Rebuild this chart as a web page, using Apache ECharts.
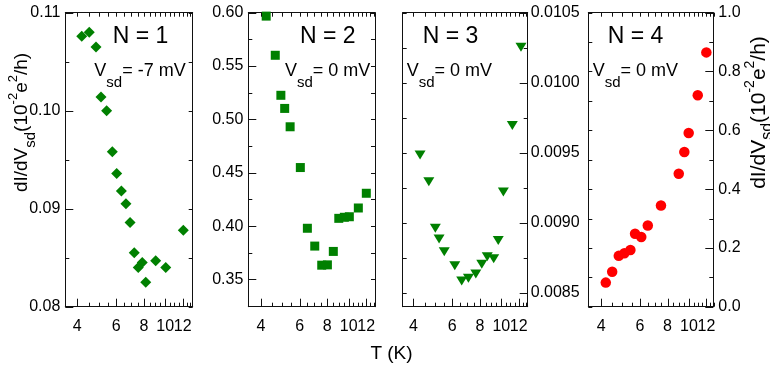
<!DOCTYPE html>
<html><head><meta charset="utf-8">
<script src="https://cdn.jsdelivr.net/npm/echarts@6/dist/echarts.min.js"></script>
<style>html,body{margin:0;padding:0;background:#fff}#c{width:770px;height:371px}</style>
</head><body><div id="c"></div>
<script>
// ---- data ----
const xTickLabels = [4, 6, 8, 10, 12];
const xMinorTicks = [4.5, 5, 5.5, 6.5, 7, 7.5, 8.5, 9, 9.5, 10.5, 11, 11.5, 12.5, 13];

const n1T = [4.19, 4.53, 4.86, 5.12, 5.43, 5.76, 6.03, 6.33, 6.64, 6.93, 7.24, 7.55, 7.87, 8.16, 9.05, 10.05, 12.07];
const n1G = [0.1076, 0.1080, 0.1065, 0.1014, 0.1000, 0.0958, 0.0936, 0.0918, 0.0905, 0.0886, 0.0855, 0.0840, 0.0845, 0.0825, 0.0847, 0.0840, 0.0878];

const n2T = [4.23, 4.65, 4.93, 5.13, 5.43, 6.04, 6.50, 7.02, 7.55, 8.01, 8.52, 9.02, 9.56, 10.07, 11.06, 12.02];
const n2G = [0.5968, 0.5601, 0.5226, 0.5103, 0.4931, 0.4549, 0.3980, 0.3813, 0.3634, 0.3637, 0.3763, 0.4073, 0.4083, 0.4088, 0.4170, 0.4308];

const n3T = [4.29, 4.70, 5.03, 5.23, 5.52, 6.16, 6.62, 7.10, 7.67, 8.16, 8.64, 9.24, 9.69, 10.22, 11.22, 12.28];
const n3G = [0.009484, 0.009292, 0.008961, 0.008884, 0.008793, 0.008693, 0.008584, 0.008603, 0.008634, 0.008703, 0.008756, 0.008742, 0.008872, 0.009219, 0.009695, 0.010254];

const n4T = [4.20, 4.49, 4.81, 5.10, 5.43, 5.70, 6.08, 6.51, 7.47, 8.99, 9.53, 9.97, 10.96, 11.99];
const n4G = [0.082, 0.119, 0.173, 0.182, 0.193, 0.248, 0.237, 0.276, 0.344, 0.452, 0.526, 0.591, 0.719, 0.865];

const y1Ticks = [0.08, 0.09, 0.10, 0.11];
const y1Minor = [0.085, 0.095, 0.105];
const y2Ticks = [0.35, 0.40, 0.45, 0.50, 0.55, 0.60];
const y2Minor = [0.375, 0.425, 0.475, 0.525, 0.575];
const y3Ticks = [0.0085, 0.0090, 0.0095, 0.0100, 0.0105];
const y3Minor = [0.00875, 0.00925, 0.00975, 0.01025];
const y4Ticks = [0.0, 0.2, 0.4, 0.6, 0.8, 1.0];
const y4Minor = [0.1, 0.3, 0.5, 0.7, 0.9];

const panelLabels = ['N = 1', 'N = 2', 'N = 3', 'N = 4'];
const biasLabels = ['= -7 mV', '= 0 mV', '= 0 mV', '= 0 mV'];

// ---- layout / style ----
const FONT = 'Liberation Sans, Arial, sans-serif';
const AX = '#111';
const panels = [
  {left: 65.3, width: 127.4, xr: [3.53, 13.31], yr: [0.08, 0.11], yt: y1Ticks, ym: y1Minor, dec: 2, side: 'left', margin: 5,
   T: n1T, G: n1G, symbol: 'diamond', size: 11, rot: 0, color: '#008000', nx: 140.5, vx: 94.3},
  {left: 248.3, width: 126.7, xr: [3.51, 13.16], yr: [0.3245, 0.60], yt: y2Ticks, ym: y2Minor, dec: 2, side: 'left', margin: 5,
   T: n2T, G: n2G, symbol: 'rect', size: 9, rot: 0, color: '#008000', nx: 327.8, vx: 285},
  {left: 402.7, width: 125, xr: [3.58, 13.17], yr: [0.0084, 0.0105], yt: y3Ticks, ym: y3Minor, dec: 4, side: 'right', margin: 3,
   T: n3T, G: n3G, symbol: 'triangle', size: [11, 9], rot: 180, color: '#008000', nx: 450.5, vx: 406.7},
  {left: 588.3, width: 125, xr: [3.50, 12.89], yr: [0, 1], yt: y4Ticks, ym: y4Minor, dec: 1, side: 'right', margin: 5,
   T: n4T, G: n4G, symbol: 'circle', size: 10.5, rot: 0, color: '#ff0000', nx: 635.5, vx: 592.7}
];
const TOP = 12.7, H = 294;

function tickRenderer(p) {
  return function (params, api) {
    const a = api.value(0), b = api.value(1), kind = api.value(2);
    const ls = {stroke: AX, lineWidth: 1};
    const ch = [];
    if (kind <= 1) {
      const pb = api.coord([a, p.yr[0]]), pt = api.coord([a, p.yr[1]]);
      const x = Math.round(pb[0]) + 0.5;
      const L = kind === 0 ? 8 : 4;
      ch.push({type: 'line', shape: {x1: x, y1: pb[1], x2: x, y2: pb[1] - L}, style: ls});
      ch.push({type: 'line', shape: {x1: x, y1: pt[1], x2: x, y2: pt[1] + 4}, style: ls});
      if (kind === 0) {
        ch.push({type: 'text', x: pb[0], y: pb[1] + 12,
          style: {text: String(a), fontSize: 16, fontFamily: FONT, fill: '#000', align: 'center', verticalAlign: 'top'}});
      }
    } else {
      const pl = api.coord([p.xr[0], b]), pr = api.coord([p.xr[1], b]);
      const y = Math.round(pl[1]) + 0.5;
      const L = kind === 2 ? 8 : 4;
      const left = p.side === 'left';
      const prim = left ? pl : pr, sec = left ? pr : pl, dir = left ? 1 : -1;
      ch.push({type: 'line', shape: {x1: prim[0], y1: y, x2: prim[0] + dir * L, y2: y}, style: ls});
      ch.push({type: 'line', shape: {x1: sec[0], y1: y, x2: sec[0] - dir * 4, y2: y}, style: ls});
    }
    return {type: 'group', children: ch};
  };
}

const grid = [], xAxis = [], yAxis = [], series = [], graphic = [];
const off = {show: false};
panels.forEach((p, i) => {
  grid.push({left: p.left, top: TOP, width: p.width, height: H, containLabel: false, outerBoundsMode: 'none'});
  const line = {show: true, onZero: false, lineStyle: {color: AX, width: 1}};
  const xb = {type: 'log', logBase: 10, gridIndex: i, min: p.xr[0], max: p.xr[1], splitLine: off,
              axisLabel: off, axisTick: off, axisLine: line, silent: true};
  xAxis.push(Object.assign({}, xb, {position: 'bottom'}));
  xAxis.push(Object.assign({}, xb, {position: 'top'}));
  const other = p.side === 'left' ? 'right' : 'left';
  const yb = {type: 'value', gridIndex: i, min: p.yr[0], max: p.yr[1], splitLine: off,
              axisLabel: off, axisTick: off, axisLine: line, silent: true};
  yAxis.push(Object.assign({}, yb, {position: p.side,
    axisLabel: {show: true, customValues: p.yt, margin: p.margin, fontSize: 16, color: '#000', fontFamily: FONT,
      hideOverlap: false, formatter: (v) => Number(v).toFixed(p.dec)}}));
  yAxis.push(Object.assign({}, yb, {position: other}));

  const xm = Math.sqrt(p.xr[0] * p.xr[1]), ymid = (p.yr[0] + p.yr[1]) / 2;
  const tickData = []
    .concat(xTickLabels.map(v => [v, ymid, 0]))
    .concat(xMinorTicks.map(v => [v, ymid, 1]))
    .concat(p.yt.map(v => [xm, v, 2]))
    .concat(p.ym.map(v => [xm, v, 3]));
  series.push({type: 'custom', xAxisIndex: 2 * i, yAxisIndex: 2 * i, data: tickData,
    encode: {x: 0, y: 1}, renderItem: tickRenderer(p), clip: false, silent: true, animation: false, z: 3});
  series.push({type: 'scatter', xAxisIndex: 2 * i, yAxisIndex: 2 * i,
    data: p.T.map((t, k) => [t, p.G[k]]), symbol: p.symbol, symbolSize: p.size, symbolRotate: p.rot,
    itemStyle: {color: p.color, opacity: 1}, silent: true, animation: false, z: 2});
  graphic.push({type: 'text', x: p.nx, y: 36.7, silent: true,
    style: {text: panelLabels[i], fontSize: 23, fontFamily: FONT, fill: '#000', align: 'center', verticalAlign: 'middle'}});
  graphic.push({type: 'text', x: p.vx, y: 71, silent: true,
    style: {text: '{v|V}{s|sd}{v|' + biasLabels[i] + '}', align: 'left', verticalAlign: 'middle',
      rich: {v: {fontSize: 18, fontFamily: FONT, fill: '#000', lineHeight: 20, padding: [12, 0, 12, 0]},
             s: {fontSize: 15, fontFamily: FONT, fill: '#000', lineHeight: 20, padding: [24, 0, 0, 0]}}}});
});

function titleRich(m, s, u) {
  return {
    m: {fontSize: m, fontFamily: FONT, fill: '#000', lineHeight: 24, padding: [9, 0, 9, 0]},
    s: {fontSize: s, fontFamily: FONT, fill: '#000', lineHeight: 24, padding: [18, 0, 0, 0]},
    u: {fontSize: u, fontFamily: FONT, fill: '#000', lineHeight: 24, padding: [0, 0, 18, 0]}
  };
}
const yTitle = '{m|dI/dV}{s|sd}{m|(10}{u|-2}{m|e}{u|2}{m|/h)}';
graphic.push({type: 'text', x: 22, y: 122.5, rotation: Math.PI / 2, silent: true,
  style: {text: yTitle, rich: titleRich(19, 15, 13), align: 'center', verticalAlign: 'middle'}});
graphic.push({type: 'text', x: 759, y: 112.5, rotation: Math.PI / 2, silent: true,
  style: {text: yTitle, rich: titleRich(21, 16, 14), align: 'center', verticalAlign: 'middle'}});
graphic.push({type: 'text', x: 391.5, y: 354, silent: true,
  style: {text: 'T (K)', fontSize: 19, fontFamily: FONT, fill: '#000', align: 'center', verticalAlign: 'middle'}});

const chart = echarts.init(document.getElementById('c'), null, {renderer: 'canvas'});
chart.setOption({animation: false, backgroundColor: '#fff', grid, xAxis, yAxis, series, graphic});
</script></body></html>
